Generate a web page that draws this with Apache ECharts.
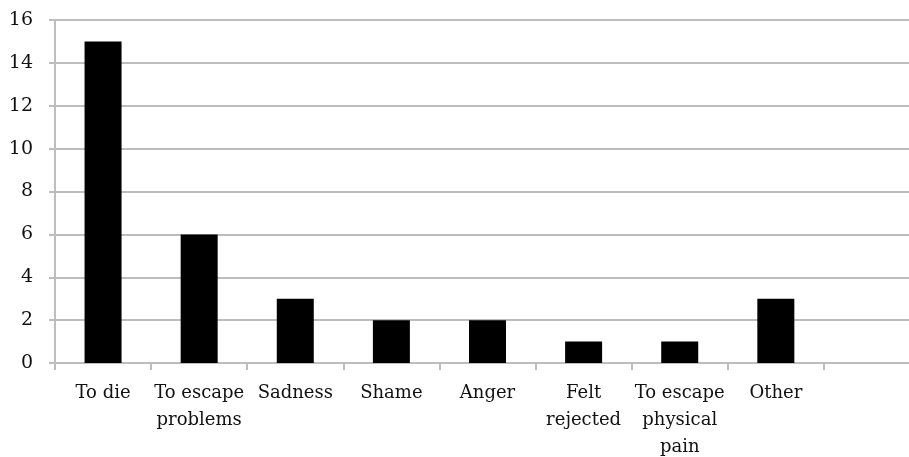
<!DOCTYPE html>
<html>
<head>
<meta charset="utf-8">
<script src="https://cdn.jsdelivr.net/npm/echarts@6/dist/echarts.min.js"></script>
<style>
  html, body { margin: 0; padding: 0; background: #fff; }
  #chart { width: 909px; height: 457px; }
</style>
</head>
<body>
<div id="chart"></div>
<script>
// categories (last slot is empty in the original)
const categories = ['To die', 'To escape\nproblems', 'Sadness', 'Shame', 'Anger',
  'Felt\nrejected', 'To escape\nphysical\npain', 'Other', ''];
const counts = [15, 6, 3, 2, 2, 1, 1, 3, null];

const yMin = 0;
const yMax = 16;
const yStep = 2;

const labelFont = '"DejaVu Serif", serif';

const chart = echarts.init(document.getElementById('chart'));

const option = {
  animation: false,
  grid: {
    left: 55,
    top: 20,
    width: 865,
    bottom: 94,
    outerBoundsMode: 'none',
  },
  xAxis: {
    type: 'category',
    data: categories,
    axisLine: { lineStyle: { color: '#bdbdbd', width: 2 } },
    axisTick: { show: true, length: 7, lineStyle: { color: '#bdbdbd', width: 2 } },
    axisLabel: {
      interval: 0,
      color: '#111',
      fontFamily: labelFont,
      fontSize: 18,
      lineHeight: 27,
      margin: 17,
      verticalAlign: 'top',
    },
  },
  yAxis: {
    type: 'value',
    min: yMin,
    max: yMax,
    interval: yStep,
    axisLine: { show: true, lineStyle: { color: '#bdbdbd', width: 2 } },
    axisTick: { show: true, length: 6, lineStyle: { color: '#bdbdbd', width: 2 } },
    axisLabel: {
      color: '#111',
      fontFamily: labelFont,
      fontSize: 19,
      margin: 22,
    },
    splitLine: { lineStyle: { color: '#bdbdbd', width: 2 } },
  },
  series: [
    {
      type: 'bar',
      data: counts,
      barWidth: 37,
      itemStyle: { color: '#000' },
    },
  ],
};

chart.setOption(option);
</script>
</body>
</html>
